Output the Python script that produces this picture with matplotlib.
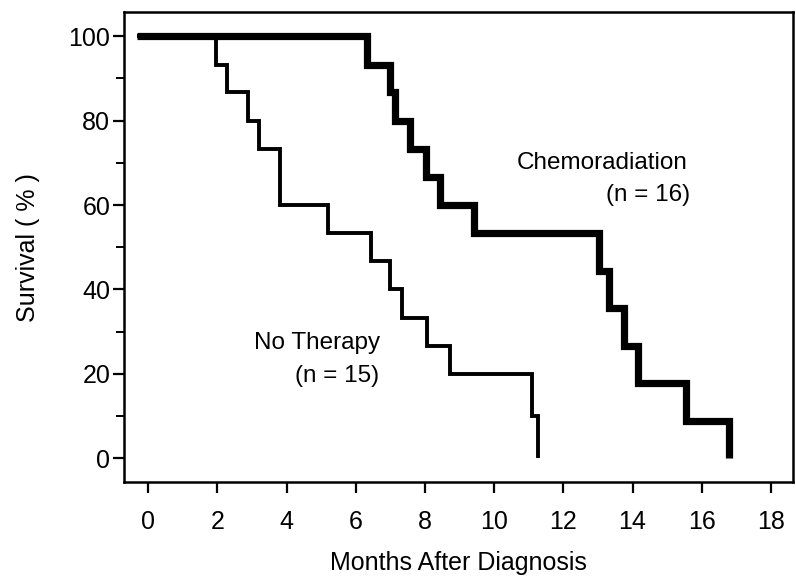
import matplotlib
matplotlib.use("Agg")
import matplotlib.pyplot as plt
from matplotlib.ticker import MultipleLocator

plt.rcParams['font.family'] = ['Liberation Sans', 'DejaVu Sans']

# Chemoradiation (n = 16): event times (months) and survival after each step
chemo_times = [-0.33, 6.32, 7.0, 7.14, 7.57, 8.03, 8.44, 9.42, 13.04, 13.33, 13.74, 14.17, 15.54, 16.78]
chemo_surv = [100, 93.3, 86.7, 80.0, 73.3, 66.7, 60.0, 53.3, 44.4, 35.6, 26.7, 17.8, 8.9, 0]

# No Therapy (n = 15)
nothx_times = [-0.33, 1.97, 2.29, 2.87, 3.19, 3.81, 5.21, 6.44, 7.0, 7.33, 8.05, 8.73, 11.08, 11.26]
nothx_surv = [100, 93.3, 86.7, 80.0, 73.3, 60.0, 53.3, 46.7, 40.0, 33.3, 26.7, 20.0, 10.0, 0]

x_ticks = [0, 2, 4, 6, 8, 10, 12, 14, 16, 18]
y_ticks = [0, 20, 40, 60, 80, 100]

fig = plt.figure(figsize=(7.96, 5.80), dpi=100)
ax = fig.add_axes([0.1558, 0.1684, 0.8401, 0.8106])

ax.step(nothx_times, nothx_surv, where='post', color='black', lw=2.8,
        solid_joinstyle='miter', solid_capstyle='butt')
ax.step(chemo_times, chemo_surv, where='post', color='black', lw=5.2,
        solid_joinstyle='miter', solid_capstyle='butt')

ax.set_xlim(-0.70, 18.63)
ax.set_ylim(-5.7, 105.7)
ax.set_xticks(x_ticks)
ax.set_yticks(y_ticks)
ax.yaxis.set_minor_locator(MultipleLocator(10))

for s in ax.spines.values():
    s.set_linewidth(1.8)

ax.tick_params(axis='both', which='major', direction='out', length=8, width=1.6,
               labelsize=18, colors='black')
ax.tick_params(axis='y', which='minor', direction='out', length=6, width=1.4)
ax.tick_params(axis='x', which='major', pad=12)
ax.tick_params(axis='y', which='major', pad=2)

ax.set_xlabel('Months After Diagnosis', fontsize=18, labelpad=12)
ax.set_ylabel('Survival ( % )', fontsize=18, labelpad=20)

ax.text(13.12, 70.0, 'Chemoradiation', fontsize=17.5, ha='center', va='center')
ax.text(14.45, 62.4, '(n = 16)', fontsize=17.5, ha='center', va='center')
ax.text(4.89, 27.3, 'No Therapy', fontsize=17.5, ha='center', va='center')
ax.text(5.46, 19.5, '(n = 15)', fontsize=17.5, ha='center', va='center')

fig.savefig('out.png', dpi=100)
